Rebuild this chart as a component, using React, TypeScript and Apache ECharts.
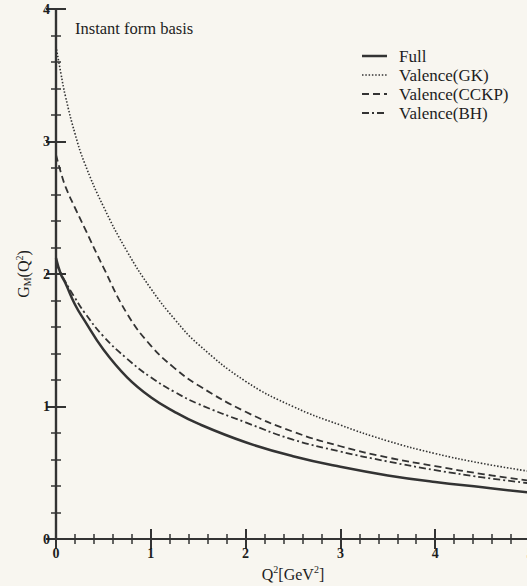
import React, { useEffect, useRef } from "react";
import * as echarts from "echarts";

const qValues = [0, 0.05, 0.1, 0.2, 0.3, 0.5, 0.75, 1, 1.25, 1.5, 2, 2.5, 3, 3.5, 4, 4.5, 5];
const fullValues = [2.12, 2.0, 1.93, 1.77, 1.65, 1.43, 1.22, 1.07, 0.96, 0.87, 0.73, 0.625, 0.545, 0.48, 0.43, 0.39, 0.35];
const gkValues = [3.72, 3.52, 3.34, 3.06, 2.84, 2.51, 2.17, 1.89, 1.66, 1.47, 1.19, 1.0, 0.86, 0.74, 0.645, 0.57, 0.51];
const cckpValues = [2.9, 2.77, 2.66, 2.5, 2.35, 2.05, 1.7, 1.46, 1.29, 1.16, 0.96, 0.81, 0.7, 0.615, 0.55, 0.49, 0.44];
const bhValues = [2.08, 2.01, 1.94, 1.82, 1.71, 1.53, 1.36, 1.22, 1.11, 1.02, 0.88, 0.75, 0.66, 0.585, 0.52, 0.465, 0.42];
const seriesNames = ["Full", "Valence(GK)", "Valence(CCKP)", "Valence(BH)"];

const INK = "#333333";
const TEXT = "#1e1e1e";
const FONT = "'Liberation Serif', 'DejaVu Serif', serif";

function pairs(ys: number[]) {
  return qValues.map((x, i) => [x, ys[i]]);
}

export default function App() {
  const ref = useRef<HTMLDivElement>(null);
  useEffect(() => {
    if (!ref.current) return;
    const chart = echarts.init(ref.current, undefined, { renderer: "svg" });
    const axisLine = { show: true, lineStyle: { color: INK, width: 2.2 } };
    const tick = { show: true, inside: true, length: 10, lineStyle: { color: INK, width: 2 } };
    const minor = { show: true, splitNumber: 5, length: 5, lineStyle: { color: INK, width: 1.5 } };
    const xBase = { type: "value", min: 0, max: 5, interval: 1, splitLine: { show: false }, axisLine, axisTick: tick, minorTick: minor };
    const yBase = { type: "value", min: 0, max: 4, interval: 1, splitLine: { show: false }, axisLine, axisTick: tick, minorTick: minor };
    const lineStyles: any[] = [
      { color: INK, width: 2.5, type: "solid" },
      { color: INK, width: 1.6, type: [1.5, 1.8] },
      { color: INK, width: 1.8, type: [7, 4] },
      { color: INK, width: 1.8, type: [7, 3, 2, 3] },
    ];
    const dataSets = [fullValues, gkValues, cckpValues, bhValues];
    const legendRows = [56, 75, 94, 113];
    const legendGraphics: any[] = [];
    seriesNames.forEach((name, i) => {
      const ls = lineStyles[i];
      legendGraphics.push({
        type: "line",
        shape: { x1: 362, y1: legendRows[i], x2: 387, y2: legendRows[i] },
        style: { stroke: INK, lineWidth: ls.width, lineDash: Array.isArray(ls.type) ? ls.type : null },
      });
      legendGraphics.push({
        type: "text",
        x: 399,
        y: legendRows[i],
        style: { text: name, font: `17px ${FONT}`, fill: TEXT, verticalAlign: "middle" },
      });
    });
    chart.setOption({
      animation: false,
      backgroundColor: "#f8f6f0",
      textStyle: { fontFamily: FONT },
      grid: { left: 56, top: 9, bottom: 47, right: -3, containLabel: false, outerBoundsMode: "none" },
      graphic: [
        {
          type: "text",
          x: 75,
          y: 28,
          style: { text: "Instant form basis", font: `16.5px ${FONT}`, fill: TEXT, verticalAlign: "middle" },
        },
        ...legendGraphics,
      ],
      xAxis: [
        {
          ...xBase,
          position: "bottom",
          name: "{a|Q}{sup|2}{a|[GeV}{sup|2}{a|]}",
          nameLocation: "middle",
          nameGap: 22,
          nameTextStyle: {
            rich: {
              a: { fontFamily: FONT, fontSize: 16, color: TEXT, verticalAlign: "bottom" },
              sup: { fontFamily: FONT, fontSize: 10, color: TEXT, verticalAlign: "top", padding: [0, 0, 8, 0] },
            },
          },
          axisLabel: { show: true, margin: 7, fontFamily: FONT, fontSize: 14, fontWeight: "bold", color: TEXT },
        },
        { ...xBase, position: "top", axisLabel: { show: false } },
      ],
      yAxis: [
        {
          ...yBase,
          position: "left",
          name: "{a|G}{sub|M}{a|(Q}{sup|2}{a|)}",
          nameLocation: "middle",
          nameGap: 21,
          nameTextStyle: {
            rich: {
              a: { fontFamily: FONT, fontSize: 16, color: TEXT },
              sub: { fontFamily: FONT, fontSize: 10, color: TEXT, padding: [8, 0, 0, 0] },
              sup: { fontFamily: FONT, fontSize: 10, color: TEXT, padding: [0, 0, 8, 0] },
            },
          },
          axisLabel: { show: true, margin: 6, fontFamily: FONT, fontSize: 14, fontWeight: "bold", color: TEXT },
        },
        { ...yBase, position: "right", axisLabel: { show: false } },
      ],
      series: seriesNames.map((name, i) => ({
        name,
        type: "line",
        xAxisIndex: 0,
        yAxisIndex: 0,
        data: pairs(dataSets[i]),
        smooth: 0.45,
        symbol: "none",
        showSymbol: false,
        color: INK,
        lineStyle: lineStyles[i],
      })),
    });
    return () => chart.dispose();
  }, []);
  return <div ref={ref} style={{ position: "absolute", left: 0, top: 0, width: 527, height: 586 }} />;
}
